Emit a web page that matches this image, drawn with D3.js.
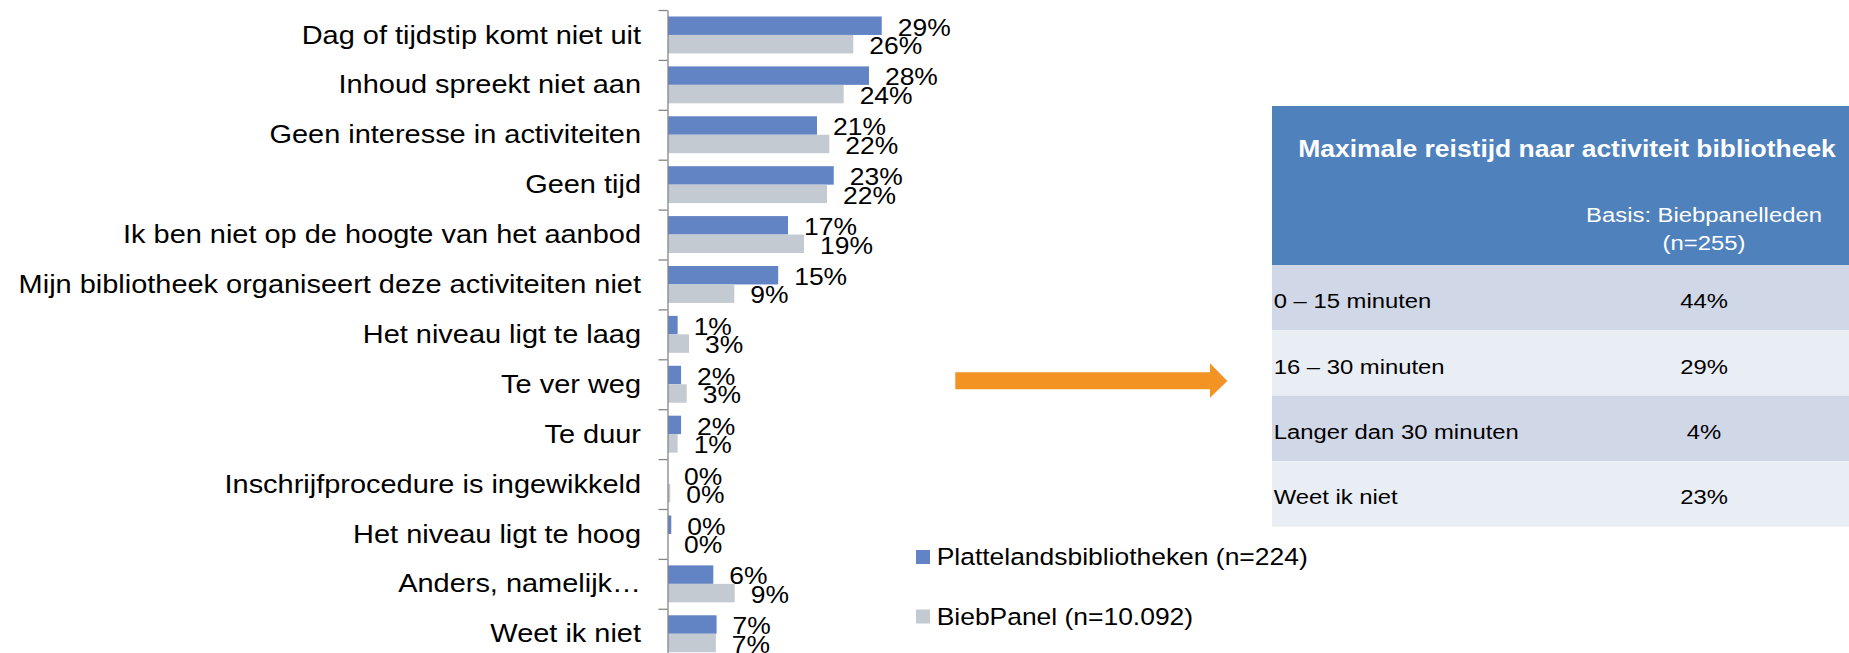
<!DOCTYPE html>
<html>
<head>
<meta charset="utf-8">
<script src="https://cdn.jsdelivr.net/npm/d3@7"></script>
<style>
  body { margin: 0; background: #fff; }
  svg { display: block; }
</style>
</head>
<body>
<div id="holder"></div>
<script>
const w = 1849;
const h = 653;
const SX = 1.135; // the source picture is stretched a little in width
const FONT = "'Liberation Sans', Arial, sans-serif";

// DATA
const categories = [
    "Dag of tijdstip komt niet uit",
    "Inhoud spreekt niet aan",
    "Geen interesse in activiteiten",
    "Geen tijd",
    "Ik ben niet op de hoogte van het aanbod",
    "Mijn bibliotheek organiseert deze activiteiten niet",
    "Het niveau ligt te laag",
    "Te ver weg",
    "Te duur",
    "Inschrijfprocedure is ingewikkeld",
    "Het niveau ligt te hoog",
    "Anders, namelijk\u2026",
    "Weet ik niet"
];
const plattelands = [29.48, 27.72, 20.55, 22.86, 16.55, 15.2, 1.33, 1.8, 1.8, 0, 0.45, 6.25, 6.7];
const biebpanel = [25.56, 24.23, 22.25, 21.93, 18.76, 9.15, 2.9, 2.58, 1.33, 0.32, 0, 9.2, 6.6];
const seriesNames = ["Plattelandsbibliotheken (n=224)", "BiebPanel (n=10.092)"];
const seriesColors = ["#6283C4", "#C4CAD1"];

const tableTitle = "Maximale reistijd naar activiteit bibliotheek";
const tableBase = ["Basis: Biebpanelleden", "(n=255)"];
const travelTimes = ["0 \u2013 15 minuten", "16 \u2013 30 minuten", "Langer dan 30 minuten", "Weet ik niet"];
const travelShares = [44, 29, 4, 23];

// place a text and stretch it like the source
function place(sel, x, y) {
    return sel.attr("transform", "translate(" + x + "," + y + ") scale(" + SX + ",1)");
}

// CREATE SVG
const svg = d3.select("#holder")
    .append("svg")
    .attr("width", w)
    .attr("height", h)
    .style("font-family", FONT);

// SCALES
const axisX = 668;
const yTop = 10;
const yBottom = yTop + categories.length * 49.9;

const xScale = d3.scaleLinear()
    .domain([0, 30])
    .range([axisX, axisX + 7.25 * 30]);

const yScale = d3.scaleBand()
    .domain(categories)
    .range([yTop, yBottom])
    .paddingInner(0.26)
    .paddingOuter(0.13);

const ySub = d3.scaleBand()
    .domain([0, 1])
    .range([0, yScale.bandwidth()]);

const rows = categories.map((c, i) => ({ cat: c, values: [plattelands[i], biebpanel[i]] }));

// BARS
const groups = svg.selectAll("g.cat")
    .data(rows)
    .enter()
    .append("g")
    .attr("class", "cat")
    .attr("transform", d => "translate(0," + yScale(d.cat) + ")");

groups.selectAll("rect")
    .data(d => d.values)
    .enter()
    .append("rect")
    .attr("x", axisX)
    .attr("y", (d, i) => ySub(i))
    .attr("width", d => xScale(d) - axisX)
    .attr("height", ySub.bandwidth())
    .attr("fill", (d, i) => seriesColors[i]);

groups.selectAll("text.val")
    .data(d => d.values)
    .enter()
    .append("text")
    .attr("class", "val")
    .each(function (d, i) {
        place(d3.select(this), xScale(d) + 16, ySub(i) + ySub.bandwidth() / 2 + 9.8);
    })
    .attr("font-size", 23.3)
    .attr("fill", "#000")
    .text(d => Math.round(d) + "%");

// AXIS (ticks on category boundaries)
const yEdges = d3.scaleLinear().domain([0, categories.length]).range([yTop, yBottom]);
const yAxis = d3.axisLeft(yEdges)
    .tickValues(d3.range(0, categories.length + 1))
    .tickFormat("")
    .tickSize(9)
    .tickSizeOuter(0);

const axisG = svg.append("g")
    .attr("transform", "translate(" + (axisX - 0.5) + ",0)")
    .call(yAxis);
axisG.selectAll("path, line").attr("stroke", "#868686").attr("stroke-width", 1.3);

// CATEGORY LABELS
svg.selectAll("text.cat")
    .data(categories)
    .enter()
    .append("text")
    .attr("class", "cat")
    .each(function (d) {
        place(d3.select(this), axisX - 27, yScale(d) + yScale.bandwidth() / 2 + 8.6);
    })
    .attr("text-anchor", "end")
    .attr("font-size", 25.5)
    .attr("fill", "#000")
    .text(d => d);

// LEGEND
const legend = svg.selectAll("g.legend")
    .data(seriesNames)
    .enter()
    .append("g")
    .attr("class", "legend")
    .attr("transform", (d, i) => "translate(916," + (550 + i * 59.5) + ")");

legend.append("rect")
    .attr("width", 14)
    .attr("height", 14)
    .attr("fill", (d, i) => seriesColors[i]);

legend.append("text")
    .each(function () { place(d3.select(this), 20.7, 15); })
    .attr("font-size", 23.3)
    .attr("fill", "#000")
    .text(d => d);

// ARROW
svg.append("path")
    .attr("d", "M955.3,372.3 L1210,372.3 L1210,363.3 L1227.3,381 L1210,397.7 L1210,389.3 L955.3,389.3 Z")
    .attr("fill", "#F39323");

// TABLE
const tableX = 1272;
const tableW = w - tableX;
const colCenter = 1704;

svg.append("rect")
    .attr("x", tableX)
    .attr("y", 106)
    .attr("width", tableW)
    .attr("height", 159)
    .attr("fill", "#4F81BD");

place(svg.append("text"), 1567, 157)
    .attr("text-anchor", "middle")
    .attr("font-size", 23.3)
    .attr("font-weight", "bold")
    .attr("fill", "#fff")
    .text(tableTitle);

svg.selectAll("text.base")
    .data(tableBase)
    .enter()
    .append("text")
    .attr("class", "base")
    .each(function (d, i) { place(d3.select(this), colCenter, 222 + i * 27.5); })
    .attr("text-anchor", "middle")
    .attr("font-size", 21)
    .attr("fill", "#fff")
    .text(d => d);

const rowScale = d3.scaleBand()
    .domain(travelTimes)
    .range([265, 526.7]);

const trows = svg.selectAll("g.trow")
    .data(travelTimes)
    .enter()
    .append("g")
    .attr("class", "trow")
    .attr("transform", d => "translate(0," + rowScale(d) + ")");

trows.append("rect")
    .attr("x", tableX)
    .attr("width", tableW)
    .attr("height", rowScale.bandwidth())
    .attr("fill", (d, i) => i % 2 === 0 ? "#D0D8E8" : "#E9EDF4");

trows.append("text")
    .each(function () { place(d3.select(this), tableX + 1.7, rowScale.bandwidth() / 2 + 10.5); })
    .attr("font-size", 21)
    .attr("fill", "#000")
    .text(d => d);

trows.append("text")
    .each(function () { place(d3.select(this), colCenter, rowScale.bandwidth() / 2 + 10.5); })
    .attr("text-anchor", "middle")
    .attr("font-size", 21)
    .attr("fill", "#000")
    .text((d, i) => travelShares[i] + "%");
</script>
</body>
</html>
